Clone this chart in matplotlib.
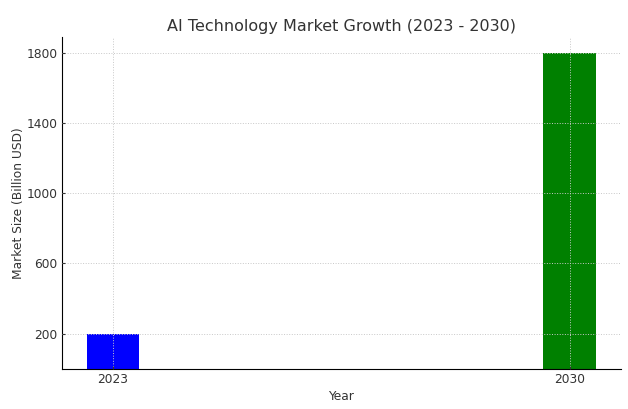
import matplotlib.pyplot as plt

years = [2023, 2030]
market_size = [200, 1800]
bar_colors = ['blue', 'green']
y_ticks = [200, 600, 1000, 1400, 1800]

plt.rcParams['text.color'] = '#333333'
plt.rcParams['axes.labelcolor'] = '#333333'
plt.rcParams['xtick.color'] = '#333333'
plt.rcParams['ytick.color'] = '#333333'

fig, ax = plt.subplots(figsize=(6.28, 4.09), dpi=100)
ax.bar(years, market_size, color=bar_colors, width=0.8)
ax.set_title('AI Technology Market Growth (2023 - 2030)', fontsize=11.5, pad=4)
ax.set_xlabel('Year', fontsize=8.8, labelpad=3)
ax.set_ylabel('Market Size (Billion USD)', fontsize=8.8, labelpad=1)
ax.set_xticks(years)
ax.set_yticks(y_ticks)
ax.tick_params(labelsize=8.8, length=2, direction='in', pad=3)
ax.set_axisbelow(False)
ax.grid(True, linestyle=':', linewidth=0.7, color='#c8c8c8')
ax.spines['top'].set_visible(False)
ax.spines['right'].set_visible(False)

plt.subplots_adjust(left=0.098, right=0.989, top=0.91, bottom=0.098)
plt.savefig('out.png', dpi=100)
